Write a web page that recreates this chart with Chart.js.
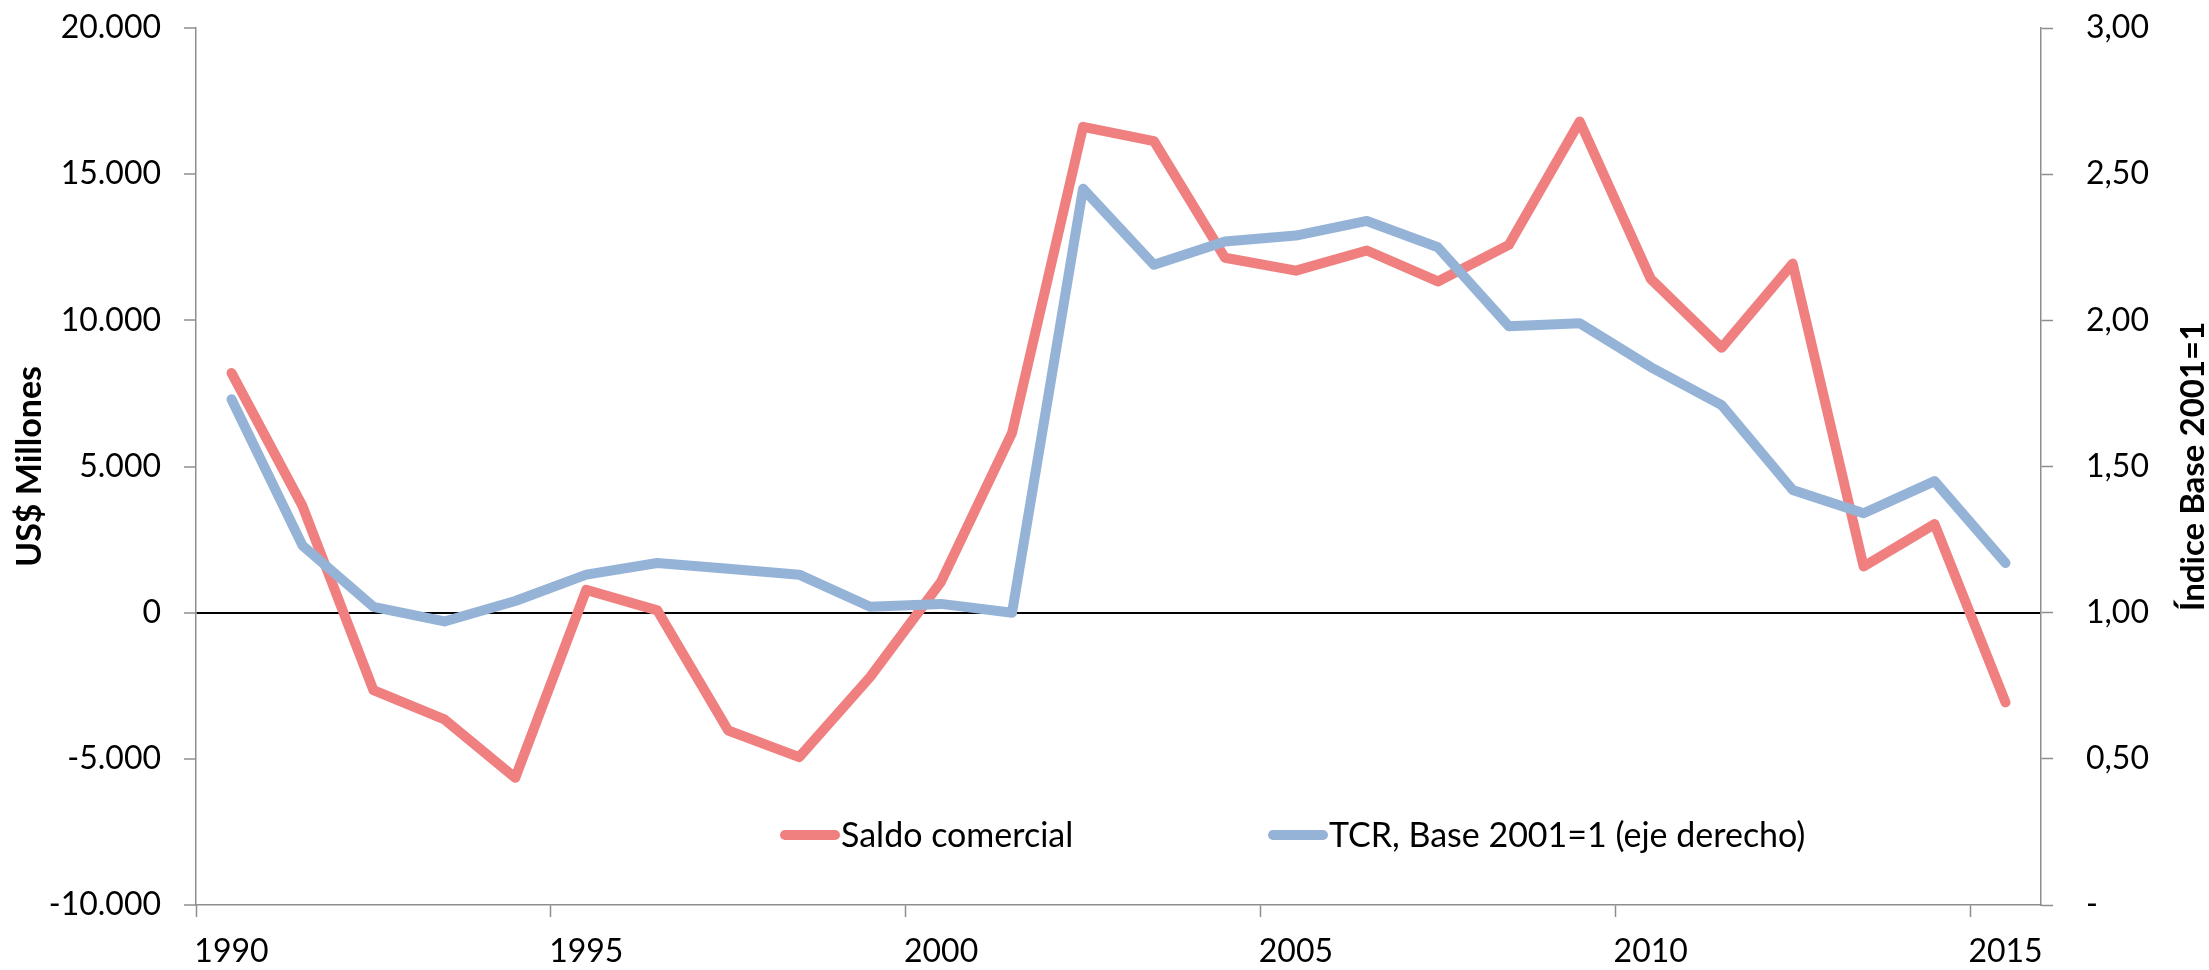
<!DOCTYPE html>
<html>
<head>
<meta charset="utf-8">
<script src="https://cdn.jsdelivr.net/npm/chart.js@4.4.1/dist/chart.umd.min.js"></script>
<style>
  body { margin: 0; background: #fff; }
  #wrap { width: 2209px; height: 970px; position: relative; }
</style>
</head>
<body>
<div id="wrap"><canvas id="myChart"></canvas></div>
<script>
/* datos */
const years = ['1990', '1991', '1992', '1993', '1994', '1995', '1996', '1997', '1998', '1999',
  '2000', '2001', '2002', '2003', '2004', '2005', '2006', '2007', '2008', '2009',
  '2010', '2011', '2012', '2013', '2014', '2015'];
// US$ millones
const saldoComercial = [8200, 3650, -2650, -3650, -5650, 780, 80, -4030, -4940, -2200,
  1060, 6150, 16620, 16130, 12140, 11700, 12390, 11330, 12580, 16800,
  11420, 9060, 11940, 1580, 3030, -3070];
// indice base 2001=1
const tcr = [1.73, 1.23, 1.02, 0.97, 1.04, 1.13, 1.17, 1.15, 1.13, 1.02,
  1.03, 1.00, 2.45, 2.19, 2.27, 2.29, 2.34, 2.25, 1.98, 1.99,
  1.84, 1.71, 1.42, 1.34, 1.45, 1.17];
const xTickYears = ['1990', '1995', '2000', '2005', '2010', '2015'];

const AXIS_GRAY = '#8e8e8e';

Chart.defaults.font.family = 'Lato';
Chart.defaults.font.size = 32;
Chart.defaults.color = '#000';

function miles(v) {
  var s = String(Math.abs(v)).replace(/\B(?=(\d{3})+(?!\d))/g, '.');
  return (v < 0 ? '-' : '') + s;
}

// ancho fijo del eje, sin relleno extra arriba/abajo
function fijarEje(ancho) {
  return function (scale) {
    scale.width = ancho;
    scale.paddingTop = 0;
    scale.paddingBottom = 0;
  };
}

/* leyenda dentro del area y titulo del eje derecho */
const extrasPlugin = {
  id: 'extras',
  afterDraw(chart) {
    const ctx = chart.ctx;
    const starts = [780, 1268];
    const y = chart.chartArea.bottom - 70;
    ctx.save();
    ctx.font = '34px Lato';
    ctx.textBaseline = 'middle';
    ctx.textAlign = 'left';
    chart.data.datasets.forEach((ds, i) => {
      ctx.strokeStyle = ds.borderColor;
      ctx.lineWidth = 10;
      ctx.lineCap = 'round';
      ctx.beginPath();
      ctx.moveTo(starts[i] + 5, y);
      ctx.lineTo(starts[i] + 55, y);
      ctx.stroke();
      ctx.fillStyle = '#000';
      ctx.fillText(ds.label, starts[i] + 61, y + 1);
    });
    const ca = chart.chartArea;
    ctx.font = 'bold 33px Lato';
    ctx.translate(chart.width - 16, (ca.top + ca.bottom) / 2);
    ctx.rotate(-Math.PI / 2);
    ctx.textAlign = 'center';
    ctx.fillText('Índice Base 2001=1', 0, 0);
    ctx.restore();
  }
};

const ctx = document.getElementById('myChart');
var config = {
  type: 'line',
  data: {
    labels: years,
    datasets: [{
      label: 'Saldo comercial',
      data: saldoComercial,
      yAxisID: 'y',
      borderColor: 'rgb(240, 128, 128)',
      backgroundColor: 'rgb(240, 128, 128)',
      borderWidth: 10,
      order: 2
    }, {
      label: 'TCR, Base 2001=1 (eje derecho)',
      data: tcr,
      yAxisID: 'y1',
      borderColor: 'rgb(149, 179, 215)',
      backgroundColor: 'rgb(149, 179, 215)',
      borderWidth: 10,
      order: 1
    }]
  },
  options: {
    responsive: true,
    maintainAspectRatio: false,
    animation: false,
    layout: { padding: { top: 28, left: 0, right: 0, bottom: 0 } },
    elements: {
      point: { radius: 0 },
      line: { tension: 0, borderJoinStyle: 'round', borderCapStyle: 'round' }
    },
    plugins: {
      legend: { display: false },
      tooltip: { enabled: false }
    },
    scales: {
      x: {
        offset: true,
        afterFit(scale) { scale.height = 65; },
        grid: {
          offset: true,
          drawOnChartArea: false,
          tickLength: 12,
          tickWidth: 1.5,
          tickColor: (c) => (c.index % 5 === 0 ? AXIS_GRAY : 'rgba(0,0,0,0)')
        },
        border: { color: AXIS_GRAY, width: 1.5 },
        ticks: {
          autoSkip: false,
          maxRotation: 0,
          padding: 15,
          callback: function (v, i) {
            var lab = years[i];
            return xTickYears.includes(lab) ? lab : '';
          }
        }
      },
      y: {
        position: 'left',
        min: -10000,
        max: 20000,
        afterFit: fijarEje(196),
        grid: {
          drawOnChartArea: true,
          color: (c) => (c.tick && c.tick.value === 0 ? '#000' : 'rgba(0,0,0,0)'),
          lineWidth: 2,
          tickLength: 12,
          tickWidth: 1.5,
          tickColor: AXIS_GRAY
        },
        border: { color: AXIS_GRAY, width: 1.5 },
        ticks: {
          stepSize: 5000,
          padding: 23,
          callback: (v) => miles(v)
        },
        title: {
          display: true,
          text: 'US$ Millones',
          font: { size: 34, weight: 'bold' },
          padding: { top: 10, bottom: 0 }
        }
      },
      y1: {
        position: 'right',
        min: 0,
        max: 3,
        afterFit: fijarEje(168),
        grid: {
          drawOnChartArea: false,
          tickLength: 12,
          tickWidth: 1.5,
          tickColor: AXIS_GRAY
        },
        border: { color: AXIS_GRAY, width: 1.5 },
        ticks: {
          stepSize: 0.5,
          padding: 33,
          callback: (v) => (v === 0 ? '-' : v.toFixed(2).replace('.', ','))
        }
      }
    }
  },
  plugins: [extrasPlugin]
};

var myChart = new Chart(ctx, config);
</script>
</body>
</html>
